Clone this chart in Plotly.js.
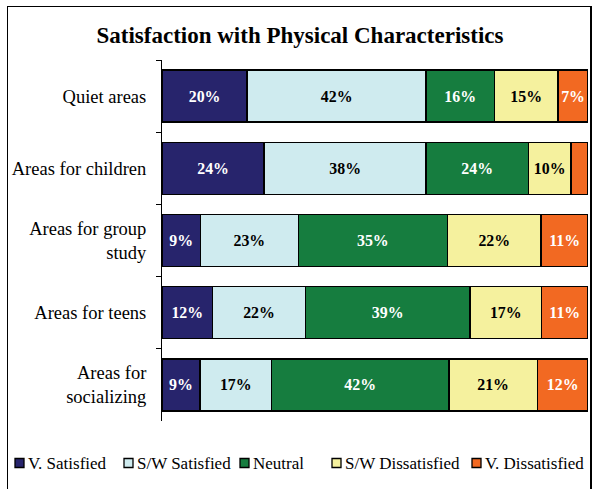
<!DOCTYPE html>
<html>
<head>
<meta charset="utf-8">
<script src="https://cdn.plot.ly/plotly-3.0.1.min.js"></script>
<style>
  html, body { margin: 0; padding: 0; background: #fff; }
  #wrap { position: relative; width: 594px; height: 489px; overflow: hidden; }
  #chart { width: 594px; height: 489px; }
  #frame { position: absolute; left: 7px; top: 6px; width: 582px; height: 520px;
           border-left: 1.5px solid #000; border-top: 1.5px solid #000; border-right: 2px solid #000;
           pointer-events: none; }
</style>
</head>
<body>
<div id="wrap">
  <div id="chart"></div>
  <div id="frame"></div>
</div>
<script>
const categories = ["Quiet areas", "Areas for children", "Areas for group<br>study", "Areas for teens", "Areas for<br>socializing"];
const seriesNames = ["V. Satisfied", "S/W Satisfied", "Neutral", "S/W Dissatisfied", "V. Dissatisfied"];
const vSatisfied     = [20, 24, 9, 12, 9];
const swSatisfied    = [42, 38, 23, 22, 17];
const neutral        = [16, 24, 35, 39, 42];
const swDissatisfied = [15, 10, 22, 17, 21];
const vDissatisfied  = [7, 4, 11, 11, 12];

const seriesValues = [vSatisfied, swSatisfied, neutral, swDissatisfied, vDissatisfied];
const colors = ["#27246c", "#cfebef", "#167d3f", "#f5f19e", "#f26922"];
const textColors = ["#ffffff", "#000000", "#ffffff", "#000000", "#ffffff"];
const serif = "Liberation Serif, Times New Roman, serif";

// figure geometry (px)
const W = 594, H = 489;
const M = { l: 162, r: 6, t: 60, b: 68 };
const plotW = W - M.l - M.r, plotH = H - M.t - M.b;
const pxToPaperX = px => (px - M.l) / plotW;
const pxToPaperY = py => (H - M.b - py) / plotH;

// legend placement (px from the figure's top-left)
const legendSymbolLeft = [15, 124, 240, 332, 472];
const legendSymbolSize = 9;
const legendY = 463;

const traces = seriesValues.map((vals, i) => ({
  type: "bar",
  orientation: "h",
  name: seriesNames[i],
  showlegend: false,
  y: categories,
  x: vals,
  text: vals.map(v => v + "%"),
  textposition: "inside",
  insidetextanchor: "middle",
  textangle: 0,
  textfont: { family: serif, size: 16, color: textColors[i], weight: "bold" },
  marker: { color: colors[i], line: { color: "#000", width: 1.5 } },
  hoverinfo: "skip"
}));

const shapes = seriesNames.map((n, i) => ({
  type: "rect", xref: "paper", yref: "paper",
  x0: pxToPaperX(legendSymbolLeft[i]), x1: pxToPaperX(legendSymbolLeft[i] + legendSymbolSize),
  y0: pxToPaperY(legendY - legendSymbolSize / 2), y1: pxToPaperY(legendY + legendSymbolSize / 2),
  fillcolor: colors[i], line: { color: "#000", width: 1.3 }
}));

const annotations = seriesNames.map((n, i) => ({
  text: n, showarrow: false,
  xref: "paper", yref: "paper",
  x: pxToPaperX(legendSymbolLeft[i] + legendSymbolSize + 1.5), xanchor: "left",
  y: pxToPaperY(legendY), yanchor: "middle",
  font: { family: serif, size: 17, color: "#000" }
}));

const layout = {
  width: W, height: H,
  margin: M,
  paper_bgcolor: "#fff", plot_bgcolor: "#fff",
  barmode: "stack",
  barnorm: "percent",
  bargap: 0.28,
  uniformtext: { mode: "hide", minsize: 15 },
  title: {
    text: "Satisfaction with Physical Characteristics",
    font: { family: serif, size: 23, color: "#000", weight: "bold" },
    x: 0.505, xref: "container", xanchor: "center",
    y: 1 - 35/489, yref: "container", yanchor: "middle"
  },
  xaxis: { range: [0, 100], visible: false, fixedrange: true },
  yaxis: {
    type: "category", autorange: "reversed",
    showline: true, linecolor: "#000", linewidth: 1,
    ticks: "outside", tickson: "boundaries", ticklen: 5, tickcolor: "#000",
    ticklabelstandoff: 11,
    tickfont: { family: serif, size: 18.5, color: "#000" },
    showgrid: false, zeroline: false
  },
  showlegend: false,
  shapes: shapes,
  annotations: annotations
};

Plotly.newPlot("chart", traces, layout, { displayModeBar: false, staticPlot: true });
</script>
</body>
</html>
